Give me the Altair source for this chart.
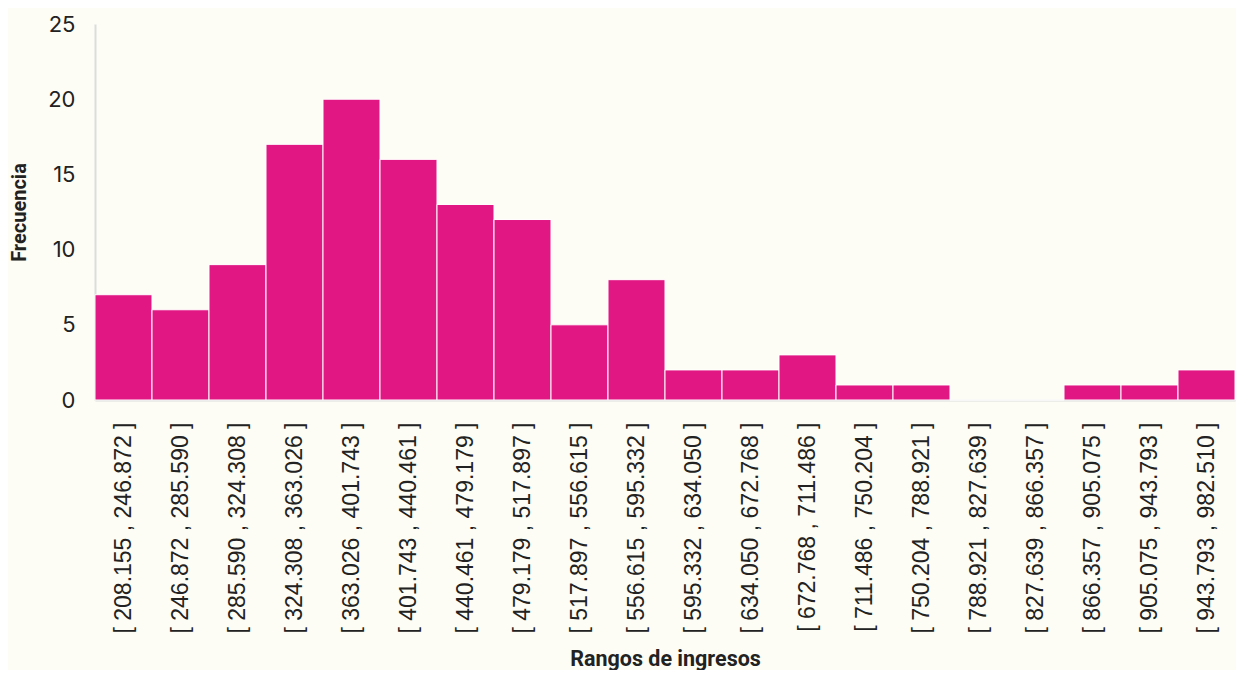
import altair as alt
import pandas as pd

bins = ["[ 208.155 , 246.872 ]", "[ 246.872 , 285.590 ]", "[ 285.590 , 324.308 ]",
        "[ 324.308 , 363.026 ]", "[ 363.026 , 401.743 ]", "[ 401.743 , 440.461 ]",
        "[ 440.461 , 479.179 ]", "[ 479.179 , 517.897 ]", "[ 517.897 , 556.615 ]",
        "[ 556.615 , 595.332 ]", "[ 595.332 , 634.050 ]", "[ 634.050 , 672.768 ]",
        "[ 672.768 , 711.486 ]", "[ 711.486 , 750.204 ]", "[ 750.204 , 788.921 ]",
        "[ 788.921 , 827.639 ]", "[ 827.639 , 866.357 ]", "[ 866.357 , 905.075 ]",
        "[ 905.075 , 943.793 ]", "[ 943.793 , 982.510 ]"]
freq = [7, 6, 9, 17, 20, 16, 13, 12, 5, 8, 2, 2, 3, 1, 1, 0, 0, 1, 1, 2]

df = pd.DataFrame({"rango": bins, "frecuencia": freq})

chart = alt.Chart(df).mark_bar(color="#E11784", stroke="white", strokeWidth=1).encode(
    x=alt.X("rango:N", sort=bins,
            scale=alt.Scale(paddingInner=0, paddingOuter=0),
            axis=alt.Axis(title="Rangos de ingresos", labelAngle=270, labelFont="Liberation Sans",
                          labelFontSize=23, labelColor="#222", ticks=False, labelPadding=22,
                          labelLimit=400,
                          domainColor="#dcdcdc", domainWidth=2, titleFont="Roboto",
                          titleFontSize=21.5, titleFontWeight="bold", titleColor="#222",
                          titleY=259, titleBaseline="middle")),
    y=alt.Y("frecuencia:Q", scale=alt.Scale(domain=[0, 25]),
            axis=alt.Axis(title="Frecuencia", values=[0, 5, 10, 15, 20, 25], grid=False,
                          ticks=False, labelFont="Inter", labelFontSize=22, labelColor="#222",
                          labelPadding=20, domainColor="#dcdcdc", domainWidth=2,
                          titleFont="Roboto", titleFontSize=20, titleFontWeight="bold",
                          titleColor="#222", titleX=-76, titleBaseline="middle")),
).properties(
    width=1140, height=376, background="#FDFDF5",
    padding={"left": 1, "top": 5, "right": 0, "bottom": 0}
).configure_view(stroke=None)

chart.save("out.html", embed_options={"renderer": "svg", "actions": False})
